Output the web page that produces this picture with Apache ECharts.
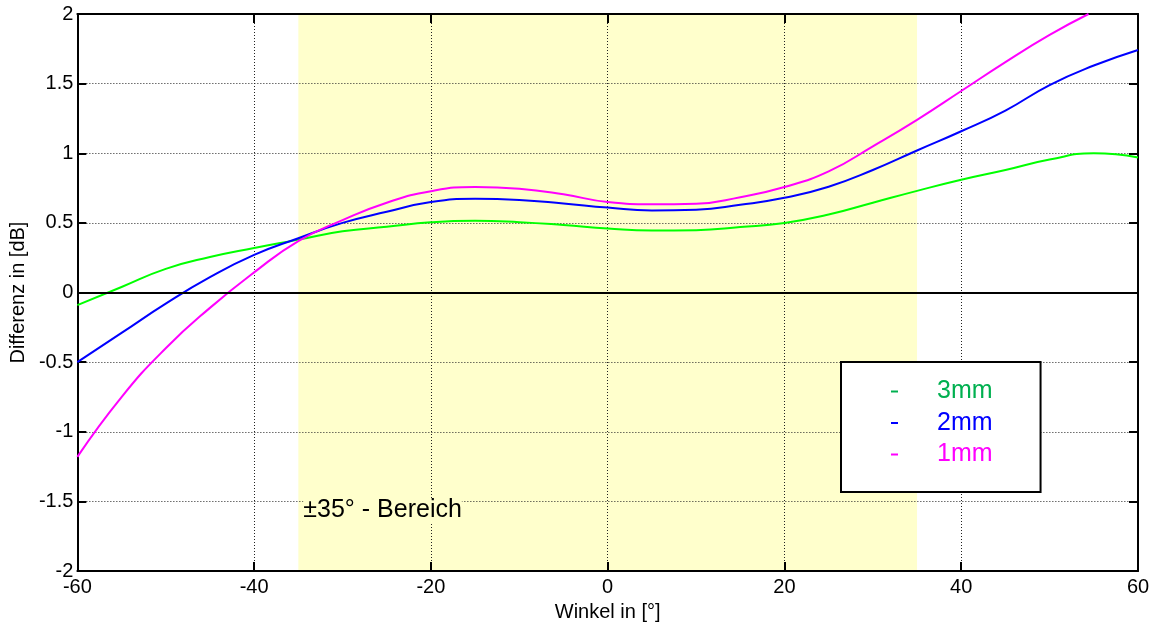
<!DOCTYPE html>
<html>
<head>
<meta charset="utf-8">
<script src="https://cdn.jsdelivr.net/npm/echarts@6/dist/echarts.min.js"></script>
<style>
  html, body { margin: 0; padding: 0; background: #fff; }
  #chart { width: 1156px; height: 627px; }
</style>
</head>
<body>
<div id="chart"></div>
<script>
// Winkel in Grad (gemeinsames Raster für 3mm und 2mm)
const winkel = [-60, -55, -50, -45, -40, -35, -30, -25, -20, -15, -10, -5, 0, 5, 10, 15, 20, 25, 30, 35, 40, 45, 50, 55, 60];
// Differenz in dB
const diff3mm = [-0.09, 0.04, 0.17, 0.255, 0.32, 0.38, 0.44, 0.472, 0.504, 0.515, 0.505, 0.485, 0.46, 0.445, 0.448, 0.47, 0.50, 0.56, 0.645, 0.73, 0.81, 0.88, 0.955, 1.0, 0.97];
const diff2mm = [-0.5, -0.29, -0.08, 0.11, 0.27, 0.39, 0.50, 0.58, 0.65, 0.673, 0.665, 0.64, 0.61, 0.59, 0.595, 0.63, 0.68, 0.76, 0.88, 1.02, 1.158, 1.307, 1.49, 1.63, 1.742];
// 1mm verlässt den Bereich oben bei ca. 54°
const winkel1mm = [-60, -55, -50, -45, -40, -35, -30, -25, -20, -15, -10, -5, 0, 5, 10, 15, 20, 25, 30, 35, 40, 45, 50, 54.4];
const diff1mm = [-1.18, -0.75, -0.40, -0.11, 0.145, 0.37, 0.52, 0.645, 0.728, 0.758, 0.745, 0.705, 0.65, 0.634, 0.638, 0.685, 0.758, 0.87, 1.05, 1.24, 1.447, 1.655, 1.85, 2.0];

const seriesNames = ['3mm', '2mm', '1mm'];
const lineColors = ['#00ff00', '#0000ff', '#ff00ff'];
const legendColors = ['#00b050', '#0000ff', '#ff00ff'];

const xRange = { min: -60, max: 60, interval: 20 };
const yRange = { min: -2, max: 2, interval: 0.5 };
const bereich = [-35, 35];
const bereichText = '±35° - Bereich';

const FONT = "'Liberation Sans', Arial, Helvetica, sans-serif";

const pairs = (xs, ys) => xs.map((x, i) => [x, ys[i]]);

const dotted = { type: [1, 2], color: '#222', width: 1 };
const frame = { show: true, onZero: false, lineStyle: { color: '#000', width: 2 } };
const ticks = { show: true, inside: true, length: 9, lineStyle: { color: '#000', width: 2 } };

const chart = echarts.init(document.getElementById('chart'), null, { renderer: 'canvas' });

const legendRich = {};
legendColors.forEach((c, i) => {
  legendRich['t' + i] = { color: c, fontSize: 25, lineHeight: 24, padding: [0, 0, 0, 34], fontFamily: FONT };
});

chart.setOption({
  animation: false,
  backgroundColor: '#fff',
  textStyle: { fontFamily: FONT },
  grid: { left: 75, right: 18, top: 14, bottom: 51, containLabel: false },
  xAxis: [
    {
      type: 'value', position: 'bottom', ...xRange,
      axisLine: frame, axisTick: ticks,
      axisLabel: { color: '#000', fontSize: 20, fontFamily: FONT, margin: 6 },
      splitLine: { show: true, lineStyle: dotted },
      name: 'Winkel in [°]', nameLocation: 'middle', nameGap: 27,
      nameTextStyle: { color: '#000', fontSize: 20, fontFamily: FONT }
    },
    {
      type: 'value', position: 'top', ...xRange,
      axisLine: frame, axisTick: ticks,
      axisLabel: { show: false }, splitLine: { show: false }
    }
  ],
  yAxis: [
    {
      type: 'value', position: 'left', ...yRange,
      axisLine: frame, axisTick: ticks,
      axisLabel: { color: '#000', fontSize: 20, fontFamily: FONT, margin: 4 },
      splitLine: { show: true, lineStyle: dotted },
      name: 'Differenz in [dB]', nameLocation: 'middle', nameGap: 48,
      nameTextStyle: { color: '#000', fontSize: 20, fontFamily: FONT }
    },
    {
      type: 'value', position: 'right', ...yRange,
      axisLine: frame, axisTick: ticks,
      axisLabel: { show: false }, splitLine: { show: false }
    }
  ],
  legend: {
    orient: 'vertical',
    left: 841, top: 362,
    padding: [17, 48, 25, 50],
    itemWidth: 7, itemHeight: 2, itemGap: 6.5,
    icon: 'rect',
    selectedMode: false,
    backgroundColor: '#fff',
    borderColor: '#000', borderWidth: 2,
    data: seriesNames.map((n, i) => ({
      name: n,
      itemStyle: { color: legendColors[i] },
      textStyle: { color: legendColors[i] }
    })),
    formatter: (name) => '{t' + seriesNames.indexOf(name) + '|' + name + '}',
    textStyle: { fontSize: 25, fontFamily: FONT, rich: legendRich }
  },
  series: [
    {
      name: seriesNames[0], type: 'line',
      data: pairs(winkel, diff3mm),
      smooth: 0.5, showSymbol: false,
      lineStyle: { color: lineColors[0], width: 2 }, itemStyle: { color: lineColors[0] },
      markArea: {
        z: -1, silent: true,
        itemStyle: { color: '#ffffcc' },
        data: [[{ xAxis: bereich[0] }, { xAxis: bereich[1] }]]
      }
    },
    {
      name: seriesNames[1], type: 'line',
      data: pairs(winkel, diff2mm),
      smooth: 0.5, showSymbol: false,
      lineStyle: { color: lineColors[1], width: 2 }, itemStyle: { color: lineColors[1] },
      markArea: {
        silent: true,
        itemStyle: { color: 'rgba(0,0,0,0)' },
        label: {
          show: true, position: 'insideBottomLeft', distance: 0, offset: [5, -48],
          formatter: bereichText, color: '#000', fontSize: 25, fontFamily: FONT,
          backgroundColor: '#ffffcc'
        },
        data: [[{ xAxis: bereich[0] }, { xAxis: bereich[1] }]]
      }
    },
    {
      name: seriesNames[2], type: 'line',
      data: pairs(winkel1mm, diff1mm),
      smooth: 0.5, showSymbol: false,
      lineStyle: { color: lineColors[2], width: 2 }, itemStyle: { color: lineColors[2] },
      markLine: {
        silent: true, symbol: 'none',
        label: { show: false },
        lineStyle: { color: '#000', width: 2, type: 'solid' },
        data: [{ yAxis: 0 }]
      }
    }
  ]
});
</script>
</body>
</html>
